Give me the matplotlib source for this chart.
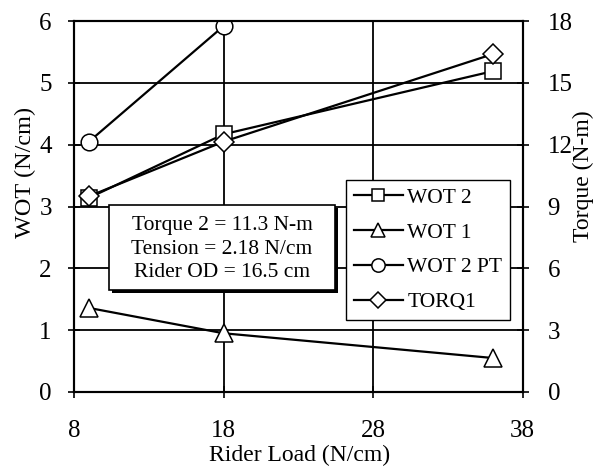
import matplotlib.pyplot as plt
from matplotlib import patheffects
from matplotlib.patches import Rectangle

plt.rcParams['font.family'] = ['Liberation Serif', 'DejaVu Serif']

# rider load (N/cm)
load = [9, 18, 36]
load_pt = [9, 18]

wot2 = [3.14, 4.17, 5.19]
wot1 = [1.36, 0.95, 0.55]
wot2_pt = [4.05, 5.92]
torq1 = [9.5, 12.15, 16.4]   # N-m, right axis

x_ticks = [8, 18, 28, 38]
wot_ticks = [0, 1, 2, 3, 4, 5, 6]
torque_ticks = [0, 3, 6, 9, 12, 15, 18]

fig = plt.figure(figsize=(5.99, 4.7), dpi=100)
ax = fig.add_axes([0.1235, 0.166, 0.749, 0.789])
ax2 = ax.twinx()

style = dict(color='black', lw=1.6, markerfacecolor='white',
             markeredgecolor='black', markeredgewidth=1.1)

h1, = ax.plot(load, wot2, marker='s', ms=11, label='WOT 2', **style)
h2, = ax.plot(load, wot1, marker='^', ms=13, label='WOT 1', **style)
h3, = ax.plot(load_pt, wot2_pt, marker='o', ms=12, label='WOT 2 PT', **style)
h4, = ax2.plot(load, torq1, marker='D', ms=10, label='TORQ1', **style)

ax.set_xlim(8, 38)
ax.set_ylim(0, 6)
ax2.set_ylim(0, 18)
ax.set_xticks(x_ticks)
ax.set_yticks(wot_ticks)
ax2.set_yticks(torque_ticks)

ax.grid(True, color='black', lw=1.3)
for sp in list(ax.spines.values()) + list(ax2.spines.values()):
    sp.set_linewidth(1.5)

ax.tick_params(axis='x', direction='inout', length=8, width=1.2, pad=16, labelsize=18)
ax.tick_params(axis='y', direction='inout', length=8, width=1.2, pad=12, labelsize=18)
ax2.tick_params(axis='y', direction='inout', length=8, width=1.2, pad=14, labelsize=18)

fig.text(0.5, 1 - 455 / 470, 'Rider Load (N/cm)', ha='center', va='center', fontsize=17)
fig.text(25 / 599, 1 - 172 / 470, 'WOT (N/cm)', ha='center', va='center',
         rotation=90, fontsize=17.5)
fig.text(583 / 599, 1 - 176 / 470, 'Torque (N-m)', ha='center', va='center',
         rotation=90, fontsize=17)

# parameter box with a drop shadow
box = Rectangle((109 / 599, 1 - 290 / 470), 226 / 599, 85 / 470,
                transform=fig.transFigure, fc='white', ec='black', lw=1.2, zorder=5)
box.set_path_effects([
    patheffects.SimplePatchShadow(offset=(2.5, -2.5), shadow_rgbFace='black', alpha=1),
    patheffects.Normal()])
fig.add_artist(box)
fig.text(222 / 599, 1 - 249 / 470, 'Torque 2 = 11.3 N-m\nTension = 2.18 N/cm\nRider OD = 16.5 cm',
         ha='center', va='center', fontsize=15.5, linespacing=1.35, zorder=6)

leg = ax2.legend([h1, h2, h3, h4], ['WOT 2', 'WOT 1', 'WOT 2 PT', 'TORQ1'],
                 loc='center', bbox_to_anchor=(428 / 599, 1 - 250 / 470),
                 bbox_transform=fig.transFigure,
                 fontsize=15.5, fancybox=False, framealpha=1, edgecolor='black',
                 handlelength=2.3, handletextpad=0.2, labelspacing=0.68,
                 borderpad=0.35, borderaxespad=0, markerscale=0.8)
leg.get_frame().set_linewidth(1.0)

fig.savefig('out.png', dpi=100)
